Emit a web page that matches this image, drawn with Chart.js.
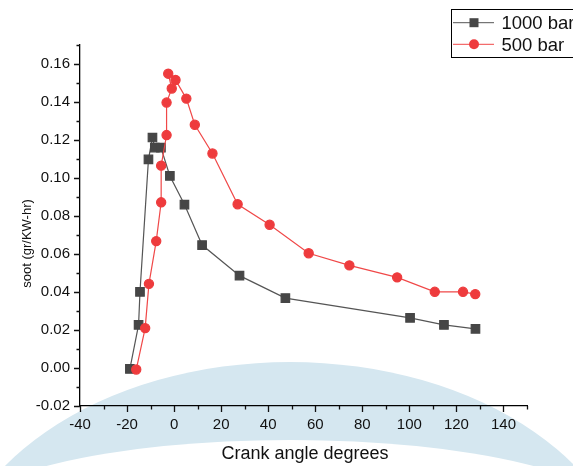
<!DOCTYPE html>
<html>
<head>
<meta charset="utf-8">
<script src="https://cdn.jsdelivr.net/npm/chart.js@4/dist/chart.umd.min.js"></script>
<style>
  html, body { margin: 0; padding: 0; background: #fff; overflow: hidden; }
</style>
</head>
<body>
<canvas id="sootChart" width="573" height="466"></canvas>
<script>
// Soot emission vs crank angle, two injection pressures
const angle1000 = [-18.8, -15.1, -14.5, -10.9, -9.2, -8.2, -5.6, -1.8, 4.4, 11.9, 27.8, 47.3, 100.3, 114.7, 128.1];
const soot1000 = [-0.0005, 0.0227, 0.0401, 0.1098, 0.1213, 0.116, 0.116, 0.1011, 0.086, 0.0647, 0.0486, 0.0368, 0.0264, 0.0227, 0.0206];

const angle500 = [-16.1, -12.3, -10.7, -7.6, -5.5, -5.5, -3.2, -3.2, -1.0, -2.5, 0.6, 5.2, 8.8, 16.3, 27.0, 40.6, 57.2, 74.5, 94.8, 110.8, 122.8, 128.0];
const soot500 = [-0.0008, 0.021, 0.0443, 0.0668, 0.0872, 0.1065, 0.1226, 0.1397, 0.1471, 0.1549, 0.1516, 0.1418, 0.128, 0.1129, 0.0862, 0.0754, 0.0604, 0.054, 0.0477, 0.0401, 0.0401, 0.0389];

const xRange = [-40, 150];
const yRange = [-0.02, 0.17];

const FONT = "'Liberation Sans', Arial, sans-serif";
const INK = "#111";

function toPoints(xs, ys) {
  return xs.map((x, i) => ({ x: x, y: ys[i] }));
}

// light blue band behind everything
const bandPlugin = {
  id: "band",
  beforeDraw(chart) {
    const ctx = chart.ctx;
    ctx.save();
    ctx.fillStyle = "#d5e7f0";
    ctx.beginPath();
    ctx.ellipse(290, 600, 345, 238, 0, 0, Math.PI * 2);
    ctx.fill();
    ctx.fillStyle = "#fff";
    ctx.beginPath();
    ctx.ellipse(290, 520, 330, 80, 0, 0, Math.PI * 2);
    ctx.fill();
    ctx.restore();
  },
};

// tick marks (long for labelled, short for minor), axis titles and the legend box
const decorPlugin = {
  id: "decor",
  afterDraw(chart) {
    const ctx = chart.ctx;
    const xs = chart.scales.x;
    const ys = chart.scales.y;
    const area = chart.chartArea;
    ctx.save();
    ctx.strokeStyle = INK;
    ctx.lineWidth = 1.3;
    ctx.beginPath();
    xs.ticks.forEach((t) => {
      const px = Math.round(xs.getPixelForValue(t.value)) + 0.5;
      const major = Math.round(t.value) % 20 === 0;
      ctx.moveTo(px, area.bottom);
      ctx.lineTo(px, area.bottom + (major ? 6 : 3.5));
    });
    ys.ticks.forEach((t) => {
      const py = Math.round(ys.getPixelForValue(t.value)) + 0.5;
      const major = Math.round(t.value * 100) % 2 === 0;
      ctx.moveTo(area.left, py);
      ctx.lineTo(area.left - (major ? 6 : 3.5), py);
    });
    ctx.stroke();

    // axis titles
    ctx.fillStyle = INK;
    ctx.font = "18px " + FONT;
    ctx.textAlign = "center";
    ctx.textBaseline = "alphabetic";
    ctx.fillText("Crank angle degrees", 305, 459);

    ctx.save();
    ctx.translate(30.5, 243.5);
    ctx.rotate(-Math.PI / 2);
    ctx.font = "13px " + FONT;
    ctx.fillText("soot (gr/KW-hr)", 0, 0);
    ctx.restore();

    // legend
    ctx.lineWidth = 1;
    ctx.strokeStyle = "#000";
    ctx.strokeRect(451.5, 9.5, 160, 48);
    const rows = [
      { ds: chart.data.datasets[1], y: 22.7 },
      { ds: chart.data.datasets[0], y: 44.3 },
    ];
    rows.forEach((r) => {
      ctx.strokeStyle = r.ds.borderColor;
      ctx.lineWidth = 1;
      ctx.beginPath();
      ctx.moveTo(453, r.y);
      ctx.lineTo(494, r.y);
      ctx.stroke();
      ctx.fillStyle = r.ds.pointBackgroundColor;
      ctx.beginPath();
      if (r.ds.pointStyle === "rect") {
        ctx.rect(474 - 4.5, r.y - 4.5, 9, 9);
      } else {
        ctx.arc(474, r.y, 5, 0, Math.PI * 2);
      }
      ctx.fill();
      ctx.fillStyle = INK;
      ctx.font = "18.5px " + FONT;
      ctx.textAlign = "left";
      ctx.textBaseline = "alphabetic";
      ctx.fillText(r.ds.label, 501.5, r.y + 6.3);
    });
    ctx.restore();
  },
};

const ctx = document.getElementById("sootChart").getContext("2d");
const sootChart = new Chart(ctx, {
  type: "line",
  data: {
    datasets: [
      {
        label: "500 bar",
        data: toPoints(angle500, soot500),
        borderColor: "#f04848",
        pointBackgroundColor: "#ee3b3d",
        pointBorderColor: "#ee3b3d",
        pointStyle: "circle",
        pointRadius: 4.6,
        borderWidth: 1.2,
        tension: 0,
        order: 0,
      },
      {
        label: "1000 bar",
        data: toPoints(angle1000, soot1000),
        borderColor: "#555555",
        pointBackgroundColor: "#464646",
        pointBorderColor: "#464646",
        pointStyle: "rect",
        pointRadius: 6,
        borderWidth: 1.2,
        tension: 0,
        order: 1,
      },
    ],
  },
  options: {
    responsive: false,
    animation: false,
    layout: { padding: { left: 0, top: 45, right: 46, bottom: 0 } },
    scales: {
      x: {
        type: "linear",
        min: xRange[0],
        max: xRange[1],
        afterFit(scale) { scale.height = 60; },
        border: { display: true, color: "#000", width: 1.3 },
        grid: { display: false, drawTicks: false },
        ticks: {
          stepSize: 10,
          padding: 10,
          maxRotation: 0,
          autoSkip: false,
          color: INK,
          font: { family: FONT, size: 15 },
          callback: (v) => (Math.round(v) % 20 === 0 ? String(Math.round(v)) : ""),
        },
      },
      y: {
        type: "linear",
        min: yRange[0],
        max: yRange[1],
        afterFit(scale) { scale.width = 80; },
        border: { display: true, color: "#000", width: 1.3 },
        grid: { display: false, drawTicks: false },
        ticks: {
          stepSize: 0.01,
          padding: 10,
          autoSkip: false,
          color: INK,
          font: { family: FONT, size: 15 },
          callback: (v) => (Math.round(v * 100) % 2 === 0 ? v.toFixed(2) : ""),
        },
      },
    },
    plugins: {
      legend: { display: false },
      tooltip: { enabled: false },
    },
  },
  plugins: [bandPlugin, decorPlugin],
});
</script>
</body>
</html>
